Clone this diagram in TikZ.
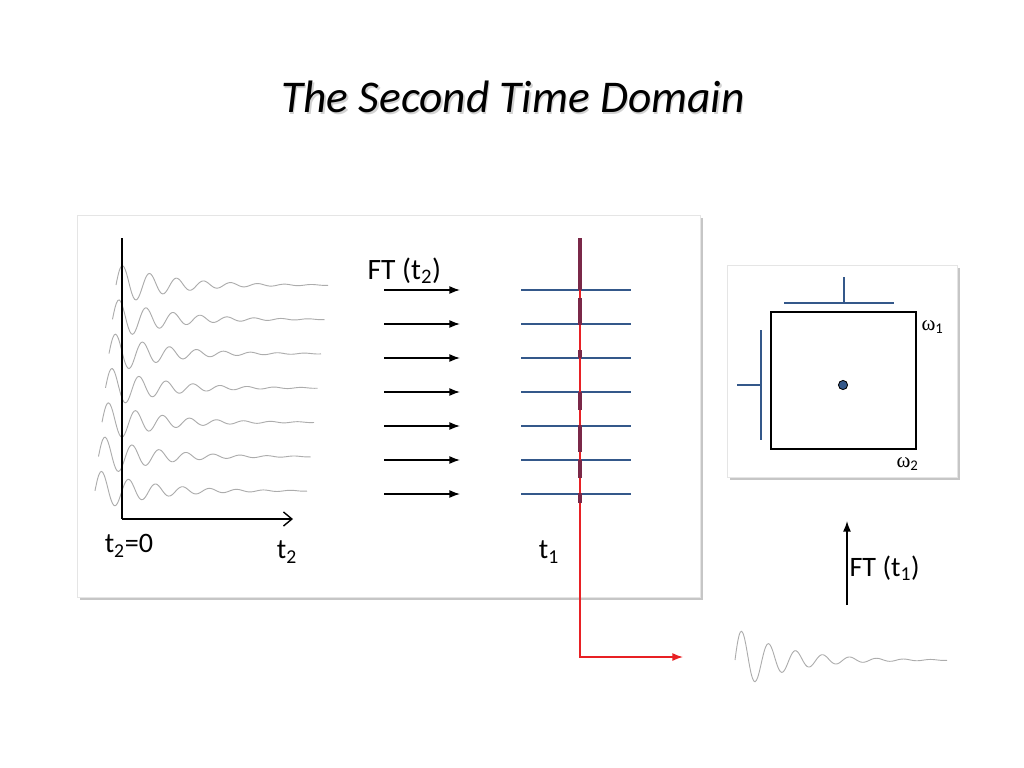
\documentclass[tikz,border=0pt]{standalone}
\usepackage{fontspec}
\setmainfont{Carlito}
\newfontfamily\greekfont{Liberation Serif}
\usetikzlibrary{arrows.meta,positioning}
\definecolor{specblue}{RGB}{52,88,138}
\definecolor{fidred}{RGB}{232,32,36}
\definecolor{ridge}{RGB}{122,40,72}

\begin{document}
\begin{tikzpicture}[x=0.025cm,y=-0.025cm,
>=Latex, line width=0.8pt,
panel/.style={draw=gray!20,fill=white,line width=0.5pt},
panel-shadow/.style={fill=gray!45,draw=none},
fid/.style={gray!65,line width=0.65pt},
ft-arrow/.style={->,line width=1pt},
slice/.style={specblue,line width=0.9pt},
ridge-seg/.style={ridge,line width=2.2pt},
txt/.style={font=\fontsize{20}{22}\selectfont,inner sep=0pt}
]
\useasboundingbox (0,0) rectangle (1024,768);

% title
\node[font=\fontsize{32.3}{36}\selectfont\itshape,text=gray!35] at (514.5,98.5) {The Second Time Domain};
\node[font=\fontsize{32.3}{36}\selectfont\itshape] (title) at (513,97) {The Second Time Domain};

% panels
\fill[panel-shadow] (80,218) rectangle (703,600);
\draw[panel] (77,215) rectangle (700,597);
\fill[panel-shadow] (730,268) rectangle (960,480);
\draw[panel] (727,265) rectangle (957,477);

% FIDs along t2
\foreach \i in {0,...,6}{
  \pgfmathsetmacro\xs{116-3.5*\i}
  \pgfmathsetmacro\yb{285+34.3*\i}
  \draw[fid] plot[domain=0:212,samples=160,smooth]
    ({\xs+\x},{\yb-22*exp(-\x/52)*sin(13.33*\x)});
}

% axes
\coordinate (origin) at (122,519);
\coordinate (ytop) at (122,238);
\coordinate (xend) at (293,519);
\draw[line width=1pt] (ytop) -- (origin);
\draw[line width=1pt,-{Straight Barb[length=6pt,width=10pt]}] (origin) -- (xend);

% arrows and spectra slices
\foreach \i in {0,...,6}{
  \coordinate (a\i) at (384,{290+34*\i});
  \coordinate (b\i) at (460,{290+34*\i});
  \coordinate (s\i) at (521,{290+34*\i});
  \coordinate (e\i) at (631,{290+34*\i});
  \draw[ft-arrow] (a\i) -- (b\i);
  \draw[slice] (s\i) -- (e\i);
}

% t1 interferogram
\coordinate (rtop) at (580,238);
\coordinate (rcorner) at (580,657);
\coordinate (rend) at (683,657);
\draw[fidred,line width=1pt,->] (rtop) -- (rcorner) -- (rend);
\foreach \ya/\yb in {238/290,298/325,350/358,392/410,425/452,460/478,493/503}
  \draw[ridge-seg] (580,\ya) -- (580,\yb);

% labels
\node[txt,font=\fontsize{21}{23}\selectfont,anchor=west] (ft2) at (367,271) {FT (t\textsubscript{2})};
\node[txt] (t2zero) at (129,546) {t\textsubscript{2}=0};
\node[txt] (t2) at (287,552) {t\textsubscript{2}};
\node[txt] (t1) at (549,552) {t\textsubscript{1}};

% 2D spectrum
\draw[line width=1pt] (771,312) rectangle (916,449);
\node[circle,fill=specblue,draw=black,line width=0.6pt,minimum size=6.5pt,inner sep=0pt] (peak) at (843,385) {};
\coordinate (topl) at (784,303);
\coordinate (topr) at (894,303);
\coordinate (topspike) at (844,277);
\coordinate (topfoot) at (844,303);
\draw[slice] (topl) -- (topr);
\draw[specblue,line width=2pt] (topfoot) -- (topspike);
\coordinate (leftt) at (761,330);
\coordinate (leftb) at (761,440);
\coordinate (leftspike) at (737,385);
\coordinate (leftfoot) at (761,385);
\draw[slice] (leftt) -- (leftb);
\draw[specblue,line width=2pt] (leftfoot) -- (leftspike);
\node[txt,font=\fontsize{15}{17}\selectfont,anchor=west] (w1) at (921,327) {{\greekfont ω}\textsubscript{1}};
\node[txt,font=\fontsize{15}{17}\selectfont,anchor=west] (w2) at (896,464) {{\greekfont ω}\textsubscript{2}};

% FT along t1
\coordinate (ftbot) at (847,605);
\coordinate (fttop) at (847,521);
\draw[ft-arrow] (ftbot) -- (fttop);
\node[txt,anchor=west] (ft1) at (849,568) {FT (t\textsubscript{1})};

% FID along t1
\draw[fid] plot[domain=0:212,samples=160,smooth]
  ({735+\x},{660-33*exp(-\x/48)*sin(13.33*\x)});

\end{tikzpicture}
\end{document}
